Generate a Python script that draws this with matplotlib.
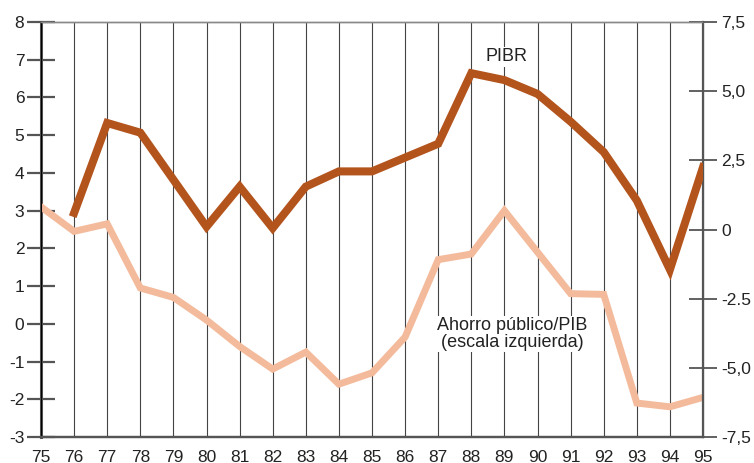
import matplotlib.pyplot as plt
import numpy as np

plt.rcParams['font.family'] = ['Liberation Sans', 'DejaVu Sans']

# data
years = list(range(75, 96))
year_labels = [str(y) for y in years]

# Ahorro publico / PIB (left scale), 1975-1995
ahorro = [3.1, 2.45, 2.65, 0.95, 0.7, 0.1, -0.6, -1.2, -0.75, -1.6, -1.3,
          -0.35, 1.7, 1.85, 3.0, 1.9, 0.8, 0.78, -2.1, -2.2, -1.95]

# PIBR (right scale), 1976-1995
pibr_years = list(range(76, 96))
pibr = [0.6, 3.85, 3.5, 1.8, 0.1, 1.55, 0.05, 1.55, 2.1, 2.1,
        2.6, 3.1, 5.65, 5.4, 4.9, 3.9, 2.8, 1.05, -1.45, 2.25]

left_ticks = list(range(-3, 9))
right_ticks = [-7.5, -5.0, -2.5, 0, 2.5, 5.0, 7.5]
right_labels = ['-7,5', '-5,0', '-2.5', '0', '2,5', '5,0', '7,5']

W, H = 754, 463
fig = plt.figure(figsize=(W / 100, H / 100), dpi=100)
ax = fig.add_axes([41 / W, 26 / H, 662 / W, 415 / H])
ax2 = ax.twinx()

grey = '#555555'

# vertical grid lines at each year
for y in years[1:-1]:
    ax.axvline(y, color='#444444', lw=0.8, zorder=1)

ax.plot(years, ahorro, color='#f3bb9c', lw=5, solid_joinstyle='miter', zorder=3)
ax2.plot(pibr_years, pibr, color='#b3541d', lw=5.8, solid_joinstyle='miter', zorder=3)

ax.set_xlim(75, 95)
ax.set_ylim(-3, 8)
ax2.set_ylim(-7.5, 7.5)

ax.set_xticks(years)
ax.set_xticklabels(year_labels, fontsize=12.5, color='#222222')
ax.tick_params(axis='x', length=0, pad=9)

ax.set_yticks(left_ticks)
ax.set_yticklabels([str(t) for t in left_ticks], fontsize=12.5, color='#222222')
ax.tick_params(axis='y', direction='inout', length=20, width=1.6, color=grey, pad=2)

ax2.set_yticks(right_ticks)
ax2.set_yticklabels(right_labels, fontsize=12.5, color='#222222')
ax2.tick_params(axis='y', direction='inout', length=20, width=1.3, color=grey, pad=3)

for a in (ax, ax2):
    a.spines['top'].set_color('#888888')
    a.spines['top'].set_linewidth(1.0)
    a.spines['top'].set_linestyle((0, (2, 1)))
    a.spines['bottom'].set_color(grey)
    a.spines['bottom'].set_linewidth(1.6)
ax.spines['left'].set_color(grey)
ax.spines['left'].set_linewidth(2.2)
ax2.spines['right'].set_color(grey)
ax2.spines['right'].set_linewidth(1.6)
ax.patch.set_visible(False)

ax2.text(89.05, 6.25, 'PIBR', fontsize=13, color='#222222', ha='center', va='center',
         bbox=dict(facecolor='white', edgecolor='none', pad=1), zorder=5)
ax.text(89.25, -0.27, 'Ahorro público/PIB\n(escala izquierda)', fontsize=13,
        color='#222222', ha='center', va='center', linespacing=1.0,
        bbox=dict(facecolor='white', edgecolor='none', pad=1), zorder=5)

fig.savefig('out.png', dpi=100)
